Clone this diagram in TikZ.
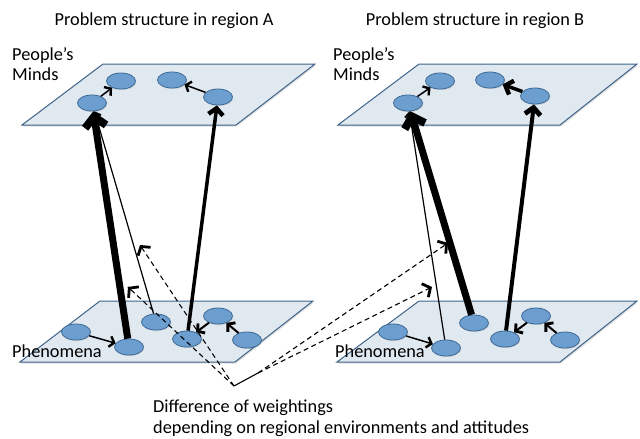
\documentclass[tikz,border=0pt]{standalone}
\usepackage{fontspec}
\setmainfont{Carlito}
\usetikzlibrary{arrows.meta,shapes.geometric,shadows,calc}
\definecolor{planefill}{HTML}{E0E8F0}
\definecolor{planedraw}{HTML}{3F6489}
\definecolor{ellfill}{HTML}{6C9FD0}
\definecolor{elldraw}{HTML}{3E6A96}
\tikzset{
  plane/.style={fill=planefill,draw=planedraw,line width=1pt,line join=miter,
    drop shadow={shadow xshift=1pt,shadow yshift=-1.5pt,opacity=0.25}},
  blob/.style={ellipse,fill=ellfill,draw=elldraw,line width=0.8pt,
    minimum width=29pt,minimum height=16pt,inner sep=0pt,
    drop shadow={shadow xshift=0.8pt,shadow yshift=-1pt,opacity=0.25}},
  lbl/.style={font=\fontsize{18.3}{22}\selectfont,inner sep=0pt,anchor=base west},
  ttl/.style={font=\fontsize{18.3}{22}\selectfont,inner sep=0pt,anchor=base},
  arr/.style={draw=black,line width=#1,
    -{Straight Barb[length=3pt 1.0,width=8pt 1.9,line width=0.9pt 1]}},
  arr/.default=1.5pt,
  dsh/.style={draw=black,line width=1.1pt,dash pattern=on 5pt off 3.5pt},
  dtip/.style={draw=black,line width=2.8pt,
    -{Straight Barb[length=6pt,width=15pt]}},
}
\begin{document}
\begin{tikzpicture}[x=1pt,y=-1pt]
\useasboundingbox (0,0) rectangle (640,439);
% titles
\node[ttl] (tA) at (164,25) {Problem structure in region A};
\node[ttl] (tB) at (475,25) {Problem structure in region B};
% planes
\draw[plane] (103,64) -- (315,64) -- (236,125) -- (22,125) -- cycle;
\draw[plane] (419,64) -- (637,64) -- (560,125) -- (338,125) -- cycle;
\draw[plane] (100,301) -- (313,301) -- (235,362) -- (20,362) -- cycle;
\draw[plane] (419,301) -- (637,301) -- (560,362) -- (337,362) -- cycle;
% labels
\node[lbl] (pmA) at (12,60) {People’s};
\node[lbl] (mA) at (12,80) {Minds};
\node[lbl] (pmB) at (333,60) {People’s};
\node[lbl] (mB) at (333,80) {Minds};
% top nodes A
\node[blob] (A1) at (92,103) {};
\node[blob] (A2) at (121,81) {};
\node[blob] (A3) at (172,80) {};
\node[blob] (A4) at (218,97) {};
% top nodes B
\node[blob] (B1) at (408,103) {};
\node[blob] (B2) at (440,81) {};
\node[blob] (B3) at (490,80) {};
\node[blob] (B4) at (535,96) {};
% bottom nodes A
\node[blob] (a) at (76,332) {};
\node[blob] (b) at (129,347) {};
\node[blob] (c) at (156,322) {};
\node[blob] (d) at (187,339) {};
\node[blob] (e) at (218,316) {};
\node[blob] (f) at (247,340) {};
% bottom nodes B
\node[blob] (ba) at (393,332) {};
\node[blob] (bb) at (446,348) {};
\node[blob] (bc) at (474,323) {};
\node[blob] (bd) at (505,339) {};
\node[blob] (be) at (536,316) {};
\node[blob] (bf) at (565,340) {};
\node[lbl] (phA) at (12,357) {Phenomena};
\node[lbl] (phB) at (335,357) {Phenomena};
% arrows in planes
\draw[arr] (A1) -- (A2);
\draw[arr] (A4) -- (A3);
\draw[arr] (B1) -- (B2);
\draw[arr=3.5pt] (B4) -- (B3);
\draw[arr] (a) -- (b);
\draw[arr=2pt] (f) -- (e);
\draw[arr=2pt] (e) -- (d);
\draw[arr] (ba) -- (bb);
\draw[arr=2pt] (bf) -- (be);
\draw[arr=2pt] (be) -- (bd);
% vertical arrows A
\draw[arr=1.2pt] (c) -- (A1);
\draw[arr=7pt] (b) -- (A1);
\draw[arr=3.5pt] (d) -- (A4);
% vertical arrows B
\draw[arr=1.2pt] (bb) -- (B1);
\draw[arr=7pt] (bc) -- (B1);
\draw[arr=4pt] (bd) -- (B4);
% dashed
\coordinate (V) at (234,386);
\coordinate (J) at (258,373);
\coordinate (L1) at (140,245);
\coordinate (L2) at (128,287);
\coordinate (R1) at (448,243);
\coordinate (R2) at (432,287);
\draw[dsh] (V) -- (L1);
\draw[dsh] (V) -- (L2);
\draw[line width=1.1pt] (V) -- (J);
\draw[dsh] (J) -- (R1);
\draw[dsh] (J) -- (R2);
\draw[dtip] ($(L1)!3pt!(V)$) -- (L1);
\draw[dtip] ($(L2)!3pt!(V)$) -- (L2);
\draw[dtip] ($(R1)!3pt!(J)$) -- (R1);
\draw[dtip] ($(R2)!3pt!(J)$) -- (R2);
% bottom text
\node[lbl] (t1) at (153,412) {Difference of weightings};
\node[lbl] (t2) at (153,433) {depending on regional environments and attitudes};
\end{tikzpicture}
\end{document}
